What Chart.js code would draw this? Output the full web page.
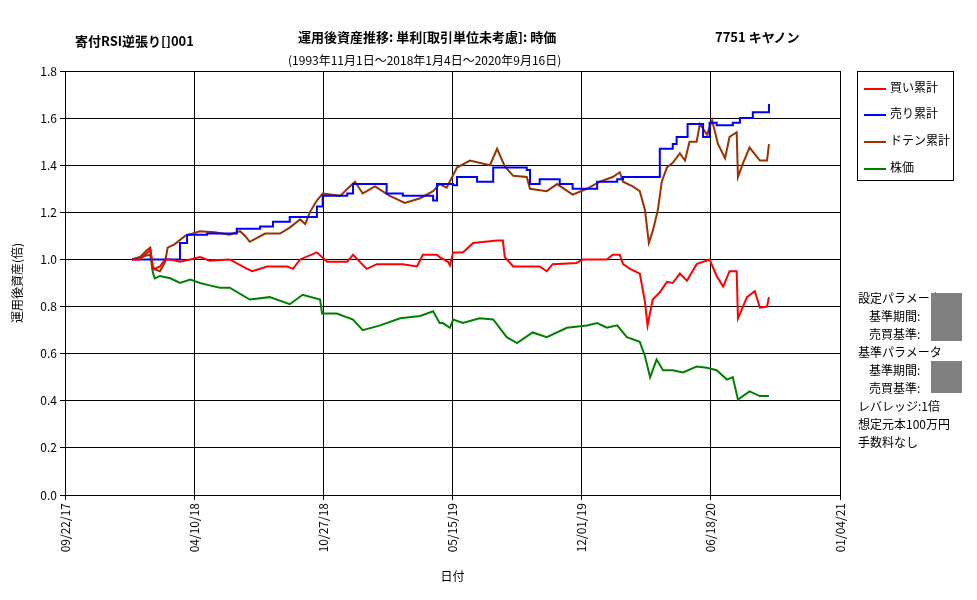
<!DOCTYPE html>
<html>
<head>
<meta charset="utf-8">
<script src="https://cdn.jsdelivr.net/npm/chart.js@4"></script>
<style>
body{margin:0;background:#fff;font-family:"Noto Sans CJK JP",sans-serif;}
#wrap{position:relative;width:977px;height:600px;}
.t{position:absolute;font-size:13px;color:#000;white-space:nowrap;}
.s{font-size:12px;}
.b{font-weight:bold;}
#legend{position:absolute;left:857px;top:71px;width:97px;height:110px;border:1px solid #000;box-sizing:border-box;font-size:12px;}
#legend div{position:absolute;left:6px;}
#legend span{display:inline-block;width:22px;height:0;border-top:2px solid;vertical-align:middle;margin-right:4px;}
.gray{position:absolute;background:#808080;left:931px;width:31px;}
</style>
</head>
<body>
<div id="wrap">
<canvas id="grafico" width="977" height="600"></canvas>
<div class="t b" style="left:75px;top:31px;">寄付RSI逆張り[]001</div>
<div class="t b" style="left:298px;top:27px;">運用後資産推移: 単利[取引単位未考慮]: 時価</div>
<div class="t b" style="left:715px;top:27px;">7751 キヤノン</div>
<div class="t" style="left:288px;top:51px;font-size:12px;">(1993年11月1日～2018年1月4日～2020年9月16日)</div>
<div id="legend">
  <div style="top:6px"><span style="border-color:#ff0000"></span>買い累計</div>
  <div style="top:32px"><span style="border-color:#0000ff"></span>売り累計</div>
  <div style="top:59px"><span style="border-color:#993300"></span>ドテン累計</div>
  <div style="top:86px"><span style="border-color:#008000"></span>株価</div>
</div>
<div class="t s" style="left:858px;top:289px;">設定パラメータ</div>
<div class="t s" style="left:869px;top:307px;">基準期間:</div>
<div class="t s" style="left:869px;top:325px;">売買基準:</div>
<div class="t s" style="left:858px;top:343px;">基準パラメータ</div>
<div class="t s" style="left:869px;top:361px;">基準期間:</div>
<div class="t s" style="left:869px;top:379px;">売買基準:</div>
<div class="t s" style="left:858px;top:397px;">レバレッジ:1倍</div>
<div class="t s" style="left:858px;top:415px;">想定元本100万円</div>
<div class="t s" style="left:858px;top:433px;">手数料なし</div>
<div class="gray" style="top:293px;height:48px;"></div>
<div class="gray" style="top:361px;height:32px;"></div>
</div>
<script>
// 日数は 09/22/17 からの経過日
var tickLabels = ['09/22/17','04/10/18','10/27/18','05/15/19','12/01/19','06/18/20','01/04/21'];

var diasCompra = [104,116,132,136,139,147,155,163,178,194,209,224,255,282,290,313,344,353,364,390,406,437,446,467,483,523,545,554,576,596,580,593,601,616,632,669,678,681,694,709,735,746,755,792,802,839,848,859,864,875,890,898,902,910,921,932,941,952,963,978,998,1009,1019,1029,1040,1042,1056,1068,1076,1087,1090];
var compra = [1.00,1.00,1.04,0.97,0.96,0.97,1.00,1.00,0.99,1.00,1.01,0.995,1.00,0.96,0.95,0.97,0.97,0.96,1.00,1.03,0.99,0.99,1.02,0.96,0.98,0.98,0.97,1.02,1.02,0.975,1.01,0.99,1.03,1.03,1.07,1.08,1.08,1.01,0.97,0.97,0.97,0.95,0.98,0.985,1.00,1.00,1.02,1.02,0.98,0.96,0.94,0.82,0.72,0.83,0.86,0.905,0.90,0.94,0.91,0.98,1.00,0.93,0.885,0.95,0.95,0.75,0.84,0.865,0.795,0.80,0.84];

var diasVenda = [104,124,155,163,178,189,220,266,302,322,348,375,390,399,437,446,483,498,523,545,570,576,596,601,607,638,663,715,720,735,759,766,786,817,824,855,864,916,921,941,947,964,983,988,998,1009,1034,1045,1065,1087,1090];
var venda = [1.00,1.00,1.00,1.00,1.07,1.105,1.11,1.13,1.14,1.16,1.18,1.18,1.225,1.27,1.28,1.32,1.32,1.28,1.27,1.27,1.25,1.32,1.32,1.315,1.35,1.33,1.39,1.38,1.32,1.34,1.34,1.32,1.30,1.30,1.33,1.34,1.35,1.35,1.47,1.49,1.52,1.575,1.575,1.52,1.58,1.57,1.58,1.60,1.625,1.625,1.66];

var diasDoten = [104,116,127,132,136,147,155,159,170,186,209,232,255,271,279,286,310,333,348,364,372,379,390,399,426,441,449,461,480,503,526,550,570,580,591,607,627,658,669,681,694,715,720,746,762,786,808,828,848,859,864,879,890,898,904,910,918,924,932,941,952,960,967,978,983,994,1002,1011,1022,1029,1040,1042,1050,1060,1076,1087,1090];
var doten = [1.00,1.01,1.04,1.05,0.96,0.95,0.99,1.05,1.065,1.10,1.12,1.115,1.105,1.12,1.10,1.075,1.11,1.11,1.135,1.17,1.15,1.20,1.25,1.28,1.27,1.31,1.33,1.28,1.31,1.27,1.24,1.26,1.29,1.32,1.305,1.39,1.42,1.40,1.47,1.395,1.355,1.35,1.30,1.29,1.32,1.275,1.30,1.33,1.35,1.37,1.33,1.31,1.29,1.21,1.07,1.12,1.21,1.33,1.39,1.41,1.45,1.42,1.50,1.50,1.575,1.53,1.59,1.49,1.43,1.52,1.54,1.35,1.41,1.475,1.42,1.42,1.49];

var diasPreco = [104,116,132,136,139,147,163,178,194,209,224,240,255,286,317,348,368,395,398,421,446,461,488,519,550,570,585,596,580,601,616,642,663,684,700,724,746,777,808,824,839,855,870,890,898,906,916,926,941,957,978,994,1009,1025,1034,1042,1060,1076,1090];
var preco = [1.00,1.01,1.02,0.945,0.92,0.93,0.92,0.90,0.915,0.90,0.89,0.88,0.88,0.83,0.84,0.81,0.85,0.83,0.77,0.77,0.745,0.70,0.72,0.75,0.76,0.78,0.73,0.71,0.73,0.745,0.73,0.75,0.745,0.67,0.645,0.69,0.67,0.71,0.72,0.73,0.71,0.72,0.67,0.65,0.59,0.50,0.575,0.53,0.53,0.52,0.545,0.54,0.53,0.49,0.50,0.405,0.44,0.42,0.42];

function pares(dias, valores){
    var lista = [];
    for(var i = 0; i < dias.length; i++){
        lista.push({x: dias[i], y: valores[i]});
    }
    lista.sort(function(a, b){ return a.x - b.x; });
    return lista;
}

function serie(label, dias, valores, cor, degrau){
    return {
        label: label,
        data: pares(dias, valores),
        borderColor: cor,
        borderWidth: 2,
        pointRadius: 0,
        tension: 0,
        stepped: degrau ? 'before' : false,
        fill: false
    };
}

var fonte = {family: '"Noto Sans CJK JP", sans-serif', size: 12};

const config = {
    type: 'line',
    data: {
        datasets: [
            serie('買い累計', diasCompra, compra, '#ff0000'),
            serie('売り累計', diasVenda, venda, '#0000ff', true),
            serie('ドテン累計', diasDoten, doten, '#993300'),
            serie('株価', diasPreco, preco, '#008000')
        ]
    },
    options: {
        responsive: false,
        animation: false,
        layout: {padding: {top: 71, right: 137, left: 6, bottom: 12}},
        plugins: {legend: {display: false}, tooltip: {enabled: false}},
        scales: {
            x: {
                type: 'linear', min: 0, max: 1200,
                ticks: {
                    stepSize: 200, maxRotation: 90, minRotation: 90, color: '#000', font: fonte,
                    callback: function(v){ return tickLabels[Math.round(v / 200)]; }
                },
                grid: {color: '#000', drawTicks: true, tickLength: 5},
                border: {color: '#000'},
                title: {display: true, text: '日付', color: '#000', font: fonte},
                afterFit: function(s){ s.height = 93; }
            },
            y: {
                min: 0, max: 1.8,
                ticks: {stepSize: 0.2, color: '#000', font: fonte, callback: function(v){ return v.toFixed(1); }},
                grid: {color: '#000', tickLength: 5},
                border: {color: '#000'},
                title: {display: true, text: '運用後資産(倍)', color: '#000', font: fonte},
                afterFit: function(s){ s.width = 59; }
            }
        }
    }
};

let myChart = new Chart(document.getElementById('grafico'), config);
</script>
</body>
</html>
